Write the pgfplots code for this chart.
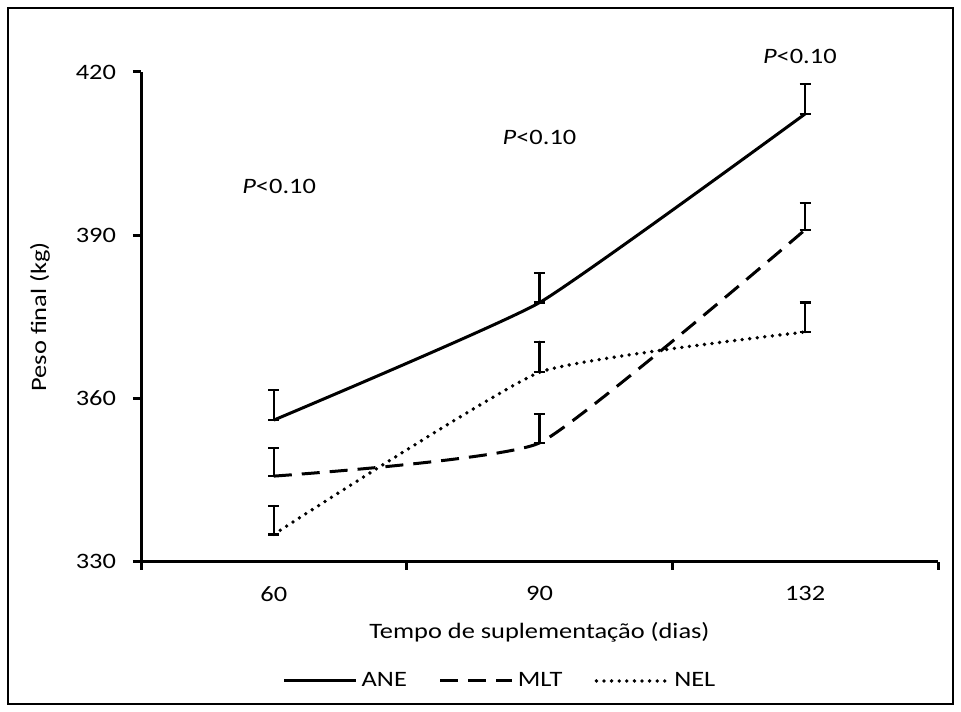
\documentclass[border=0pt]{standalone}
\usepackage{fontspec}
\setmainfont{Carlito}[FakeStretch=1.2]
\usepackage{pgfplots}
\pgfplotsset{compat=1.18}
\usepackage{pgfplotstable}

\pgfplotstableread{
x y ep em
0 356.0 5.5 0
1 377.6 5.4 0
2 412.3 5.5 0
}\ane
\pgfplotstableread{
x y ep em
0 345.7 5.2 0
1 351.8 5.3 0
2 391.0 4.9 0
}\mlt
\pgfplotstableread{
x y ep em
0 335.0 5.2 0
1 364.8 5.6 0
2 372.2 5.4 0
}\nel

\begin{document}
\begin{tikzpicture}
\path (-70.5pt,-74.75pt) rectangle (410pt,280.75pt);
\draw[line width=0.6pt, black] (-66.5pt,-71.25pt) rectangle (406pt,276.75pt);
\begin{axis}[
  at={(0pt,0pt)}, anchor=south west,
  scale only axis, width=398.5pt, height=244.75pt,
  xmin=-0.5, xmax=2.5, ymin=330, ymax=420,
  axis lines=left,
  axis line style={line width=1.5pt, -},
  ytick={330,360,390,420},
  xtick={-0.5,0.5,1.5,2.5}, xticklabels={},
  extra x ticks={0,1,2}, extra x tick labels={60,90,132},
  extra x tick style={major tick length=0pt, xticklabel style={yshift=-9pt}},
  yticklabel style={xshift=-5pt},
  tick align=outside, major tick length=4pt,
  tick style={line width=1.5pt, black},
  /pgf/number format/assume math mode=true,
  font=\fontsize{11}{13}\selectfont,
  ticklabel style={font=\fontsize{11}{13}\selectfont},
  xlabel={Tempo de suplementação (dias)},
  xlabel style={at={(axis description cs:0.5,-0.144)}, anchor=center},
  ylabel={Peso final (kg)},
  ylabel style={at={(axis description cs:-0.1267,0.5)}, anchor=center},
  clip=false,
  legend style={draw=none, fill=none, at={(axis description cs:0.4517,-0.2441)}, anchor=center,
    legend columns=3, font=\fontsize{11}{13}\selectfont,
    /tikz/every even column/.append style={column sep=14pt}},
  legend image code/.code={\draw[#1] (0pt,0pt) -- (36pt,0pt);},
  error bars/y dir=both, error bars/y explicit,
  error bars/error bar style={solid, line width=1.2pt, black},
  error bars/error mark options={rotate=90, mark size=2.8pt, line width=1.2pt, solid, black},
]
\addplot[black, line width=1.5pt, smooth, tension=0.25, no markers]
  table[x=x, y=y, y error plus=ep, y error minus=em]{\ane};
\addlegendentry{ANE}
\addplot[black, line width=1.5pt, smooth, tension=0.25, no markers, dash pattern=on 9pt off 5pt]
  table[x=x, y=y, y error plus=ep, y error minus=em]{\mlt};
\addlegendentry{MLT}
\addplot[black, line width=1.9pt, smooth, tension=0.25, no markers, line cap=round, dash pattern=on 0pt off 3.8pt]
  table[x=x, y=y, y error plus=ep, y error minus=em]{\nel};
\addlegendentry{NEL}
\node[font=\fontsize{11}{13}\selectfont] at (axis cs:0.02,399) {\textit{P}<0.10};
\node[font=\fontsize{11}{13}\selectfont] at (axis cs:1.0,408) {\textit{P}<0.10};
\node[font=\fontsize{11}{13}\selectfont] at (axis cs:1.98,422.9) {\textit{P}<0.10};
\end{axis}
\end{tikzpicture}
\end{document}
